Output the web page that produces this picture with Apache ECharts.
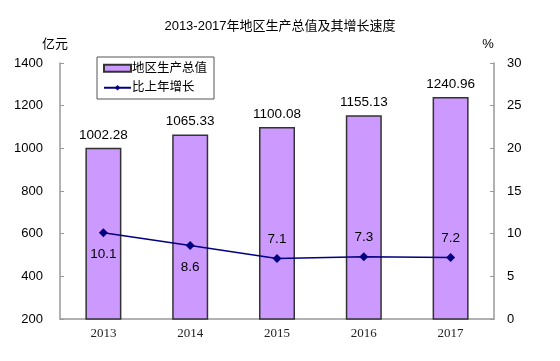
<!DOCTYPE html>
<html>
<head>
<meta charset="utf-8">
<script src="https://cdn.jsdelivr.net/npm/echarts@6/dist/echarts.min.js"></script>
<style>html,body{margin:0;padding:0;background:#fff;}#c{width:560px;height:361px;}</style>
</head>
<body>
<div id="c"></div>
<script>
var years = ['2013', '2014', '2015', '2016', '2017'];
var gdp = [1002.28, 1065.33, 1100.08, 1155.13, 1240.96];
var growth = [10.1, 8.6, 7.1, 7.3, 7.2];
var leftTicks = {min: 200, max: 1400, interval: 200};
var rightTicks = {min: 0, max: 30, interval: 5};

var growthLabelPos = ['bottom', 'bottom', 'top', 'top', 'top'];
var growthLabelDist = {bottom: 10, top: 8};

var FONT = '"Liberation Sans", Arial, "Noto Sans CJK SC", sans-serif';
var chart = echarts.init(document.getElementById('c'), null, {renderer: 'canvas'});
chart.setOption({
  animation: false,
  backgroundColor: '#fff',
  title: {
    text: '2013-2017年地区生产总值及其增长速度',
    left: 'center', top: 15,
    textStyle: {fontSize: 13, fontWeight: 'normal', color: '#000', fontFamily: FONT}
  },
  legend: {
    orient: 'vertical',
    left: 97, top: 57,
    padding: [5, 7, 5, 6],
    itemGap: 7,
    itemWidth: 27, itemHeight: 7,
    borderColor: '#555', borderWidth: 1,
    textStyle: {fontSize: 12.5, color: '#000', fontFamily: FONT, padding: [0, 0, 0, -4]},
    data: [
      {name: '地区生产总值', icon: 'rect'},
      {name: '比上年增长'}
    ]
  },
  grid: {left: 60, right: 66, top: 63, bottom: 42, containLabel: false},
  xAxis: {
    type: 'category',
    data: years,
    axisLine: {lineStyle: {color: '#999', width: 1.5}},
    axisTick: {inside: true, length: 4, lineStyle: {color: '#999'}},
    axisLabel: {fontSize: 13, color: '#222', fontFamily: '"Liberation Serif", "Times New Roman", serif', margin: 8}
  },
  yAxis: [
    {
      type: 'value', min: leftTicks.min, max: leftTicks.max, interval: leftTicks.interval,
      name: '亿元', nameLocation: 'end', nameGap: 12,
      nameTextStyle: {fontSize: 13, color: '#000', fontFamily: FONT, align: 'center', padding: [0, 10, 0, 0]},
      axisLine: {show: true, lineStyle: {color: '#999', width: 1.5}},
      axisTick: {show: true, inside: true, length: 4, lineStyle: {color: '#999'}},
      axisLabel: {fontSize: 13, color: '#000', fontFamily: FONT, margin: 17,
        formatter: function (v) { return String(v); }},
      splitLine: {show: false}
    },
    {
      type: 'value', min: rightTicks.min, max: rightTicks.max, interval: rightTicks.interval,
      name: '%', nameLocation: 'end', nameGap: 12,
      nameTextStyle: {fontSize: 13, color: '#000', fontFamily: FONT, align: 'center', padding: [0, 0, 0, -12]},
      axisLine: {show: true, lineStyle: {color: '#999', width: 1.5}},
      axisTick: {show: true, inside: true, length: 4, lineStyle: {color: '#999'}},
      axisLabel: {fontSize: 13, color: '#000', fontFamily: FONT, margin: 13,
        formatter: function (v) { return String(v); }},
      splitLine: {show: false}
    }
  ],
  series: [
    {
      name: '地区生产总值',
      type: 'bar',
      data: gdp,
      barWidth: 36,
      itemStyle: {color: '#CC99FF', borderColor: '#333', borderWidth: 1.5},
      label: {show: true, position: 'top', distance: 6, fontSize: 13.5, color: '#000', fontFamily: FONT,
        formatter: function (p) { return p.value.toFixed(2); }}
    },
    {
      name: '比上年增长',
      type: 'line',
      yAxisIndex: 1,
      data: growth.map(function (v, i) {
        return {value: v, label: {position: growthLabelPos[i], distance: growthLabelDist[growthLabelPos[i]]}};
      }),
      symbol: 'diamond', symbolSize: 9,
      lineStyle: {color: '#000080', width: 1.5},
      itemStyle: {color: '#000080'},
      label: {show: true, fontSize: 13.5, color: '#000', fontFamily: FONT,
        formatter: function (p) { return p.value.toFixed(1); }}
    }
  ]
});
</script>
</body>
</html>
